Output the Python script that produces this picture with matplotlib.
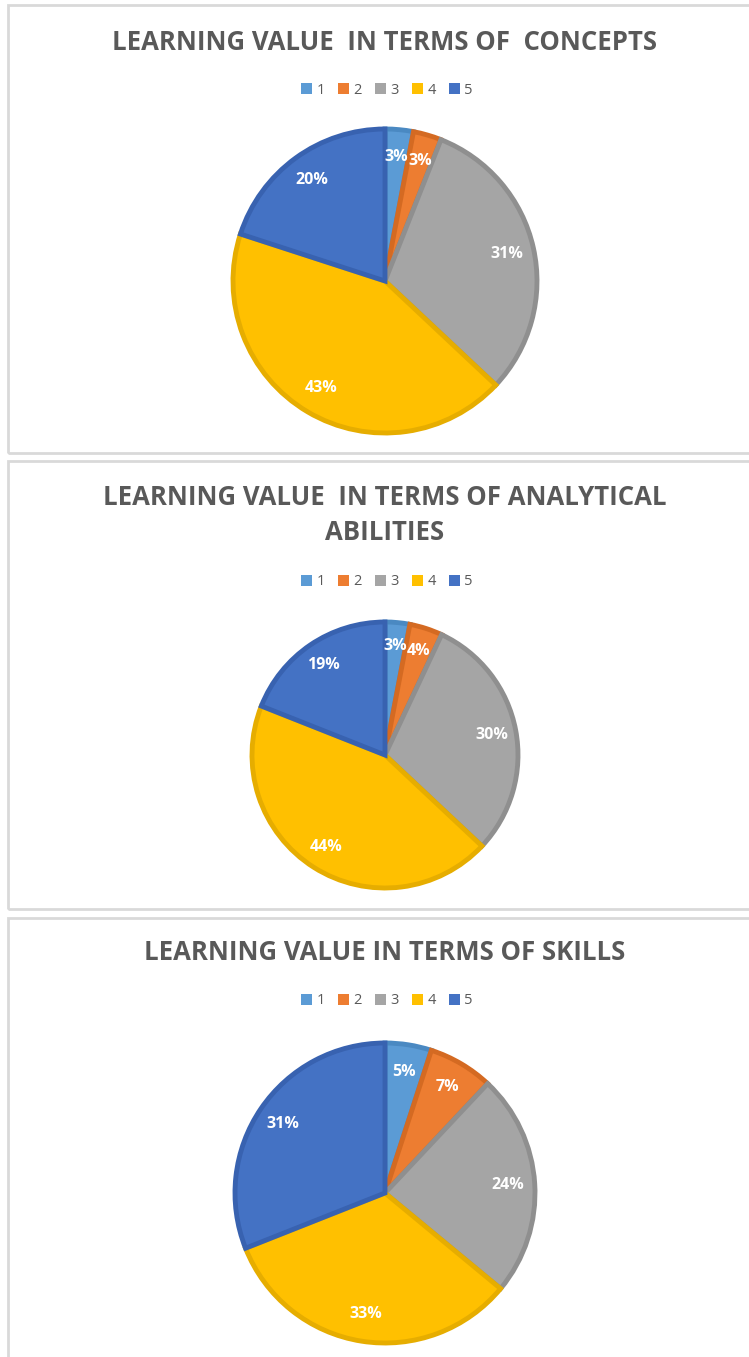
import numpy as np
import matplotlib.pyplot as plt
from matplotlib.patches import Rectangle, Patch

plt.rcParams['font.family'] = ['Open Sans', 'DejaVu Sans']

categories = ['1', '2', '3', '4', '5']
concepts = [3, 3, 31, 43, 20]
analytical = [3, 4, 30, 44, 19]
skills = [5, 7, 24, 33, 31]

titles = ['LEARNING VALUE  IN TERMS OF  CONCEPTS',
          'LEARNING VALUE  IN TERMS OF ANALYTICAL\nABILITIES',
          'LEARNING VALUE IN TERMS OF SKILLS']

colors = ['#5B9BD5', '#ED7D31', '#A5A5A5', '#FFC000', '#4472C4']
edges = ['#4A89C2', '#D46A22', '#8F8F8F', '#E6AD00', '#3862B0']

W, H = 749, 1357
fig = plt.figure(figsize=(W / 100, H / 100), dpi=100)
fig.patch.set_facecolor('white')


def fx(px):
    return px / W


def fy(py):
    return 1 - py / H


# panel frames (top, bottom in pixels)
panels = [(5, 453), (461, 909), (918, 1370)]
for top, bot in panels:
    fig.patches.append(Rectangle((fx(8), fy(bot)), fx(760), (bot - top) / H,
                                 transform=fig.transFigure, fill=False,
                                 edgecolor='#D9D9D9', lw=2))

# pie centers / radius, title y, legend y (pixels)
layout = [
    dict(cx=385, cy=281, r=152, ty=[42], ly=90),
    dict(cx=385, cy=755, r=133, ty=[497, 532], ly=582),
    dict(cx=385, cy=1193, r=150, ty=[952], ly=1001),
]
datasets = [concepts, analytical, skills]

for data, title, lay in zip(datasets, titles, layout):
    r = lay['r'] * 1.06
    ax = fig.add_axes([fx(lay['cx'] - r), fy(lay['cy'] + r), 2 * r / W, 2 * r / H])
    wedges, texts, autotexts = ax.pie(
        data, colors=colors, startangle=90, counterclock=False,
        autopct='%1.0f%%', pctdistance=0.82,
        wedgeprops=dict(linewidth=3.5), textprops=dict(color='white', fontsize=11.5, fontweight='bold'))
    for w, ec in zip(wedges, edges):
        w.set_edgecolor(ec)
        w.set_joinstyle('miter')
    ax.set_xlim(-1.06, 1.06)
    ax.set_ylim(-1.06, 1.06)
    ax.axis('off')

    for line, ty in zip(title.split('\n'), lay['ty']):
        fig.text(fx(385), fy(ty), line, ha='center', va='center',
                 fontsize=18.5, fontweight='bold', color='#595959')

    handles = [Patch(facecolor=c, edgecolor='none') for c in colors]
    fig.legend(handles, categories, loc='center', bbox_to_anchor=(fx(387), fy(lay['ly'])),
               ncol=5, frameon=False, fontsize=10.5, handlelength=0.75, handleheight=0.75,
               handletextpad=0.3, columnspacing=0.9, labelcolor='#595959')

fig.savefig('out.png', dpi=100)
